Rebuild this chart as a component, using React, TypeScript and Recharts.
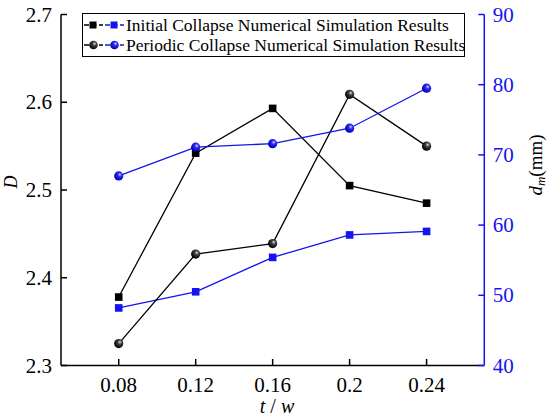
import { LineChart, Line, XAxis, YAxis } from 'recharts';

const tw = [0.08, 0.12, 0.16, 0.2, 0.24];
const initialD = [2.378, 2.542, 2.593, 2.505, 2.485];
const periodicD = [2.325, 2.427, 2.439, 2.609, 2.55];
const initialDm = [48.2, 50.5, 55.4, 58.6, 59.1];
const periodicDm = [67.0, 71.1, 71.6, 73.8, 79.5];

const xTicks = [0.08, 0.12, 0.16, 0.2, 0.24];
const dTicks = [2.3, 2.4, 2.5, 2.6, 2.7];
const dmTicks = [40, 50, 60, 70, 80, 90];

const legendItems = [
  { label: 'Initial Collapse Numerical Simulation Results', shape: 'square' },
  { label: 'Periodic Collapse Numerical Simulation Results', shape: 'ball' },
];

const data = tw.map((t, i) => ({
  t,
  initialD: initialD[i],
  periodicD: periodicD[i],
  initialDm: initialDm[i],
  periodicDm: periodicDm[i],
}));

const BLUE = '#1414ee';
const FONT = 'Liberation Serif, Times New Roman, serif';

function squareDot(color: string) {
  return (p: any) => {
    if (p.cx == null || p.cy == null) return <g key={p.key} />;
    return <rect key={p.key} x={p.cx - 3.8} y={p.cy - 3.8} width={7.6} height={7.6} fill={color} />;
  };
}

function ballDot(grad: string) {
  return (p: any) => {
    if (p.cx == null || p.cy == null) return <g key={p.key} />;
    return <circle key={p.key} cx={p.cx} cy={p.cy} r={4.6} fill={`url(#${grad})`} />;
  };
}

function tickText(color: string, anchor: string, dy: string, fmt: (v: number) => string) {
  return (p: any) => (
    <text
      x={p.x}
      y={p.y}
      dy={dy}
      textAnchor={anchor}
      fill={color}
      style={{ fontFamily: FONT, fontSize: 21 }}
    >
      {fmt(p.payload.value)}
    </text>
  );
}

function LegendIcon({ color, shape, grad }: { color: string; shape: string; grad: string }) {
  return (
    <svg width={19} height={10} style={{ display: 'block' }}>
      <line x1={0} y1={5} x2={19} y2={5} stroke={color} strokeWidth={1.3} strokeDasharray="5 2.5" />
      {shape === 'square' ? (
        <rect x={5.5} y={1.5} width={7} height={7} fill={color} />
      ) : (
        <circle cx={9.5} cy={5} r={4.3} fill={`url(#${grad})`} />
      )}
    </svg>
  );
}

export default function App() {
  return (
    <div style={{ position: 'absolute', left: 0, top: 0, width: 550, height: 419, background: '#fff', fontFamily: FONT }}>
      <svg width={0} height={0} style={{ position: 'absolute' }}>
        <defs>
          <radialGradient id="ballBlack" cx="62%" cy="35%" r="65%">
            <stop offset="0%" stopColor="#e0e0e0" />
            <stop offset="35%" stopColor="#404040" />
            <stop offset="100%" stopColor="#000" />
          </radialGradient>
          <radialGradient id="ballBlue" cx="62%" cy="35%" r="65%">
            <stop offset="0%" stopColor="#d0d0ff" />
            <stop offset="35%" stopColor="#2a2af5" />
            <stop offset="100%" stopColor="#0000a8" />
          </radialGradient>
        </defs>
      </svg>

      <LineChart width={550} height={419} data={data} margin={{ top: 14.5, right: 0, left: 0, bottom: 0 }}>
        <XAxis
          dataKey="t"
          type="number"
          domain={[0.05, 0.27]}
          ticks={xTicks}
          height={53.5}
          stroke="#000"
          strokeWidth={1.5}
          tickSize={-6.5}
          tickMargin={18}
          tick={tickText('#000', 'middle', '0.71em', (v) => String(v))}
        />
        <YAxis
          yAxisId="d"
          orientation="left"
          domain={[2.3, 2.7]}
          ticks={dTicks}
          width={61}
          stroke="#000"
          strokeWidth={1.5}
          tickSize={-6}
          tickMargin={15}
          tick={tickText('#000', 'end', '0.34em', (v) => v.toFixed(1))}
        />
        <YAxis
          yAxisId="dm"
          orientation="right"
          domain={[40, 90]}
          ticks={dmTicks}
          width={65.7}
          stroke={BLUE}
          strokeWidth={1.5}
          tickSize={-6}
          tickMargin={14.5}
          tick={tickText(BLUE, 'start', '0.34em', (v) => String(v))}
        />
        <Line yAxisId="d" dataKey="initialD" stroke="#000" strokeWidth={1.3} dot={squareDot('#000')} isAnimationActive={false} />
        <Line yAxisId="dm" dataKey="initialDm" stroke={BLUE} strokeWidth={1.3} dot={squareDot(BLUE)} isAnimationActive={false} />
        <Line yAxisId="d" dataKey="periodicD" stroke="#000" strokeWidth={1.3} dot={ballDot('ballBlack')} isAnimationActive={false} />
        <Line yAxisId="dm" dataKey="periodicDm" stroke={BLUE} strokeWidth={1.3} dot={ballDot('ballBlue')} isAnimationActive={false} />
      </LineChart>

      {/* axis titles */}
      <svg width={550} height={419} style={{ position: 'absolute', left: 0, top: 0, pointerEvents: 'none' }}>
        <text x={277} y={413} textAnchor="middle" fontSize={20} fontFamily={FONT} fill="#000">
          <tspan fontStyle="italic">t</tspan>
          <tspan> / </tspan>
          <tspan fontStyle="italic">w</tspan>
        </text>
        <text transform="translate(17,182) rotate(-90)" textAnchor="middle" fontSize={18} fontFamily={FONT} fontStyle="italic" fill="#000">
          D
        </text>
        <text transform="translate(542,165) rotate(-90)" textAnchor="middle" fontSize={19} fontFamily={FONT} fill="#000">
          <tspan fontStyle="italic">d</tspan>
          <tspan fontStyle="italic" fontSize={13} dy={3}>m</tspan>
          <tspan dy={-3}>(mm)</tspan>
        </text>
      </svg>

      {/* legend */}
      <div
        style={{
          position: 'absolute',
          left: 82,
          top: 12.5,
          width: 381,
          height: 42,
          border: '1.3px solid #000',
          background: '#fff',
          boxSizing: 'content-box',
          fontSize: 17.5,
          lineHeight: '20px',
        }}
      >
        {legendItems.map((it, i) => (
          <div key={i} style={{ display: 'flex', alignItems: 'center', height: 20, marginTop: i === 0 ? 1 : 0 }}>
            <div style={{ marginLeft: 1 }}>
              <LegendIcon color="#000" shape={it.shape} grad="ballBlack" />
            </div>
            <div style={{ marginLeft: 2 }}>
              <LegendIcon color={BLUE} shape={it.shape} grad="ballBlue" />
            </div>
            <span style={{ marginLeft: 2, whiteSpace: 'nowrap' }}>{it.label}</span>
          </div>
        ))}
      </div>
    </div>
  );
}
